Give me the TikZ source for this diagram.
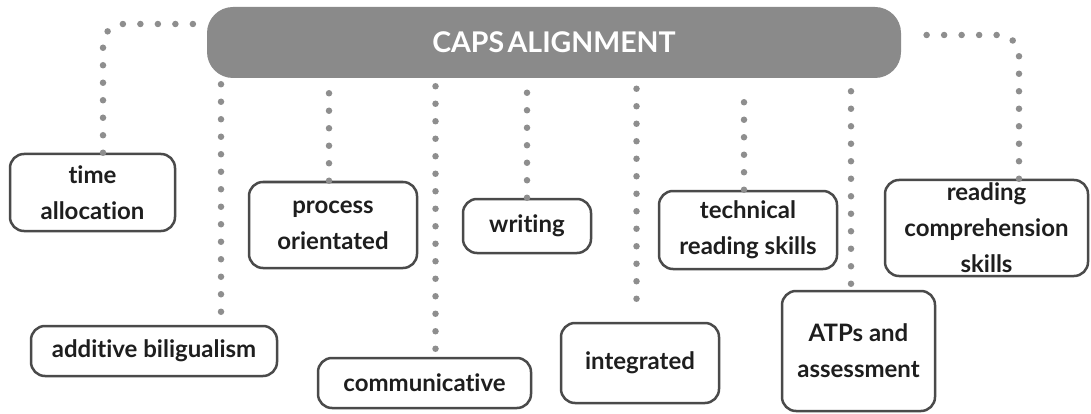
\documentclass[tikz,border=0pt]{standalone}
\usepackage{fontspec}
\setmainfont{Lato}[RawFeature={-liga,-dlig,-calt}]
\usetikzlibrary{calc}
\definecolor{topc}{HTML}{8A8A8A}
\definecolor{dotc}{HTML}{8E8E8E}
\definecolor{boxc}{HTML}{4A4A4A}
\definecolor{txt}{HTML}{1E1E1E}
\newcommand{\nl}{\kern0pt}
\begin{document}
\begin{tikzpicture}[x=1pt,y=-1pt,
  box/.style={draw=boxc, line width=2.5pt, rounded corners=14pt, fill=white,
    align=center, inner sep=0pt, text=txt,
    font=\bfseries\fontsize{24}{36}\selectfont},
  conn/.style={draw=dotc, line width=6.5pt, line cap=round,
    dash pattern=on 0pt off 17.5pt}]
\useasboundingbox (0,0) rectangle (1091,414);
% central bar
\node[fill=topc, rounded corners=26pt, minimum width=694pt, minimum height=71pt,
  inner sep=0pt, text=white, font=\bfseries\fontsize{28.5}{30}\selectfont]
  (top) at (554,42.5) {CAPS\hspace{0.12em}ALIGNMENT};
% boxes
\node[box, minimum width=165pt, minimum height=77pt]  (time)  at (92.5,192.5) {t\nl ime\\allocat\nl ion};
\node[box, minimum width=168pt, minimum height=86pt]  (proc)  at (333,225)    {process\\orientated};
\node[box, minimum width=128pt, minimum height=54pt]  (writ)  at (527,226)    {writ\nl ing};
\node[box, minimum width=178pt, minimum height=78pt]  (tech)  at (748,230)    {technical\\reading skills};
\node[box, minimum width=203pt, minimum height=96pt]  (rc)    at (986.5,228)  {reading\\comprehension\\skills};
\node[box, minimum width=246pt, minimum height=50pt]  (add)   at (154,351)    {addit\nl ive biligualism};
\node[box, minimum width=213pt, minimum height=50pt]  (comm)  at (424.5,383)  {communicat\nl ive};
\node[box, minimum width=158pt, minimum height=80pt]  (integ) at (640,363)    {integrated};
\node[box, minimum width=153pt, minimum height=120pt] (atp)   at (858.5,351)  {ATPs and\\assessment};
% connectors
\draw[conn, rounded corners=20pt] ([xshift=10.5pt]time.north) |- ([yshift=18.5pt]top.west);
\draw[conn, rounded corners=20pt] ([xshift=32.5pt]rc.north) |- ($(top.east)+(15,-7.5)$);
\draw[conn] ($(add.north)+(67,-13)$)    -- ($(add.north |- top.south)+(67,2)$);
\draw[conn] ($(proc.north)+(-4,0)$)     -- ($(proc.north |- top.south)+(-4,8)$);
\draw[conn] ($(comm.north)+(11,-8)$)    -- ($(comm.north |- top.south)+(11,5)$);
\draw[conn] (writ.north)                -- ($(writ.north |- top.south)+(0,8)$);
\draw[conn] ($(integ.north)+(-3.5,-23)$) -- ($(integ.north |- top.south)+(-3.5,8)$);
\draw[conn] ($(tech.north)+(-4,0)$)     -- ($(tech.north |- top.south)+(-4,8)$);
\draw[conn] ($(atp.north)+(-7.5,-6)$)   -- ($(atp.north |- top.south)+(-7.5,8)$);
\end{tikzpicture}
\end{document}
